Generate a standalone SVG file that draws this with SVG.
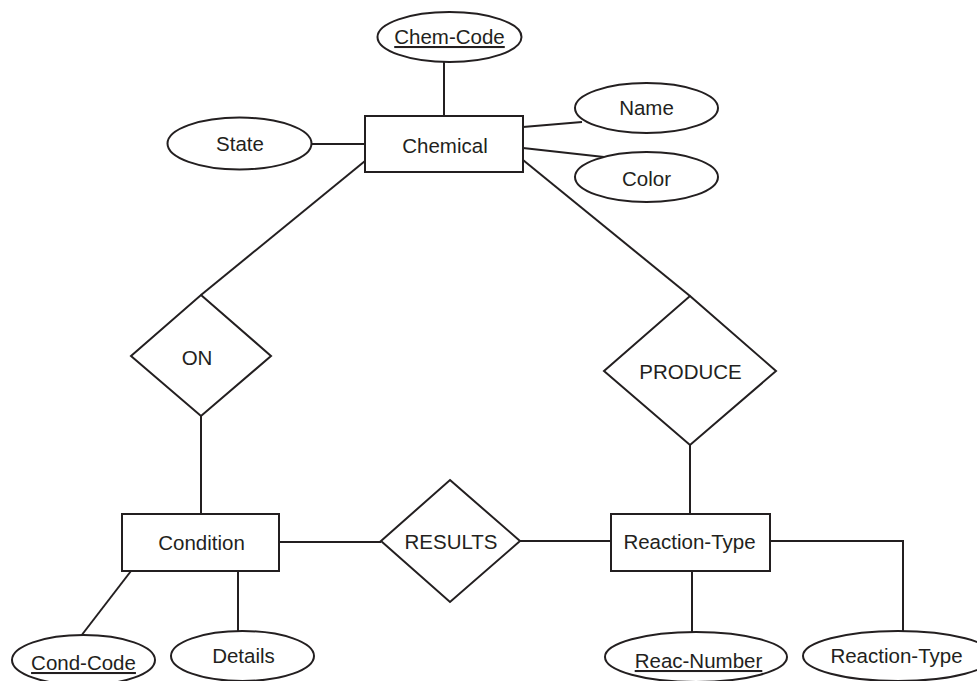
<svg xmlns="http://www.w3.org/2000/svg" width="977" height="681" viewBox="0 0 977 681">
<style>
.s{fill:#fff;stroke:#231f20;stroke-width:2}
.c{fill:none;stroke:#231f20;stroke-width:2}
text{font-family:"Liberation Sans",Arial,sans-serif;font-size:20.5px;fill:#231f20;text-anchor:middle}
.u{text-decoration:underline}
</style>
<rect width="977" height="681" fill="#fff"/>
<g id="connectors">
<line class="c" x1="444" y1="62" x2="444" y2="116"/>
<line class="c" x1="523" y1="127" x2="582" y2="122"/>
<line class="c" x1="523" y1="148" x2="604" y2="157"/>
<line class="c" x1="312" y1="144" x2="365" y2="144"/>
<line class="c" x1="365" y1="161" x2="201" y2="295"/>
<line class="c" x1="523" y1="160" x2="690" y2="296"/>
<line class="c" x1="201" y1="416" x2="201" y2="514"/>
<line class="c" x1="690" y1="445" x2="690" y2="514"/>
<line class="c" x1="279" y1="542" x2="381" y2="542"/>
<line class="c" x1="520" y1="541" x2="611" y2="541"/>
<line class="c" x1="131" y1="571" x2="81" y2="636"/>
<line class="c" x1="238" y1="571" x2="238" y2="631"/>
<line class="c" x1="692" y1="571" x2="692" y2="632"/>
<polyline class="c" points="770,541 903,541 903,631"/>
</g>
<g id="chem-code"><ellipse class="s" cx="449.5" cy="37" rx="72" ry="25"/><text class="u" x="449.5" y="44">Chem-Code</text></g>
<g id="chemical"><rect class="s" x="365" y="116" width="158" height="56"/><text x="445" y="153">Chemical</text></g>
<g id="name"><ellipse class="s" cx="646.5" cy="108" rx="71.5" ry="25"/><text x="646.5" y="115">Name</text></g>
<g id="color"><ellipse class="s" cx="646.5" cy="177" rx="71.5" ry="25"/><text x="646.5" y="186">Color</text></g>
<g id="state"><ellipse class="s" cx="239.5" cy="143.5" rx="72" ry="26"/><text x="240" y="151">State</text></g>
<g id="on"><polygon class="s" points="201,295 271,356 201,416 131,356"/><text x="197" y="365">ON</text></g>
<g id="produce"><polygon class="s" points="690,296 776,371 690,445 604,371"/><text x="690.5" y="379">PRODUCE</text></g>
<g id="condition"><rect class="s" x="122" y="514" width="157" height="57"/><text x="201.5" y="550">Condition</text></g>
<g id="results"><polygon class="s" points="450,480 520,541 450,602 381,541"/><text x="451" y="549">RESULTS</text></g>
<g id="reaction-type"><rect class="s" x="611" y="514" width="159" height="57"/><text x="689.5" y="549">Reaction-Type</text></g>
<g id="cond-code"><ellipse class="s" cx="83.5" cy="660" rx="71.5" ry="25"/><text class="u" x="83.5" y="670">Cond-Code</text></g>
<g id="details"><ellipse class="s" cx="242.5" cy="656" rx="71.5" ry="25"/><text x="243.5" y="663">Details</text></g>
<g id="reac-number"><ellipse class="s" cx="696" cy="657" rx="91" ry="25"/><text class="u" x="698.5" y="668">Reac-Number</text></g>
<g id="reaction-type-attr"><ellipse class="s" cx="898" cy="656" rx="95" ry="25"/><text x="896.5" y="663">Reaction-Type</text></g>
</svg>
